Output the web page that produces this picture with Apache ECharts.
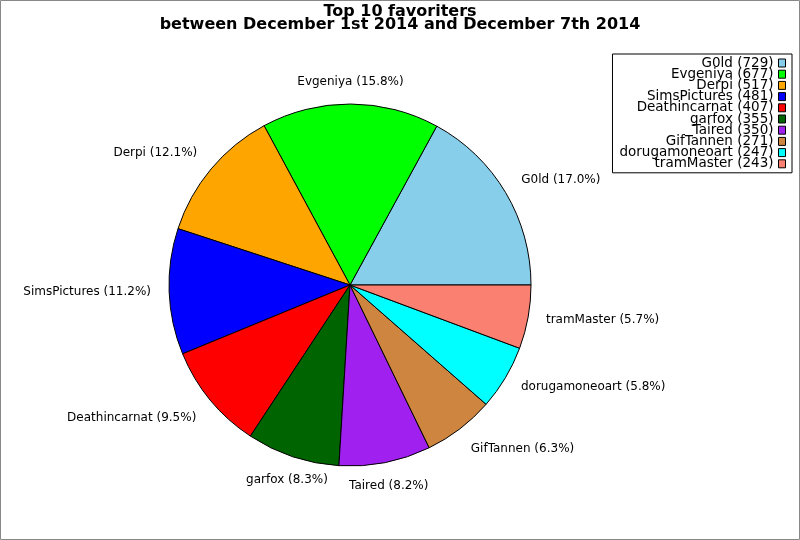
<!DOCTYPE html>
<html>
<head>
<meta charset="utf-8">
<title>Top 10 favoriters</title>
<script src="https://cdn.jsdelivr.net/npm/echarts@6/dist/echarts.min.js"></script>
<style>
  html, body { margin: 0; padding: 0; background: #fff; }
  #main { width: 800px; height: 540px; }
</style>
</head>
<body>
<div id="main"></div>
<script>
var names = ['G0ld', 'Evgeniya', 'Derpi', 'SimsPictures', 'Deathincarnat',
    'garfox', 'Taired', 'GifTannen', 'dorugamoneoart', 'tramMaster'];
var counts = [729, 677, 517, 481, 407, 355, 350, 271, 247, 243];
var colors = ['#87ceeb', '#00ff00', '#ffa500', '#0000ff', '#ff0000',
    '#006400', '#a020f0', '#cd853f', '#00ffff', '#fa8072'];

var total = counts.reduce(function (a, b) { return a + b; }, 0);

// pie geometry (px)
var cx = 350, cy = 285, R = 181;

// mid angle of every slice, counter-clockwise from 3 o'clock
var midAngles = [];
var acc = 0;
counts.forEach(function (v) {
    midAngles.push((acc + v / 2) / total * 2 * Math.PI);
    acc += v;
});

var chartDom = document.getElementById('main');
var myChart = echarts.init(chartDom);
var option;

option = {
    animation: false,
    color: colors,
    textStyle: { fontFamily: 'DejaVu Sans' },
    title: {
        text: 'Top 10 favoriters\nbetween December 1st 2014 and December 7th 2014',
        left: 'center',
        top: 0,
        textStyle: {
            fontFamily: 'DejaVu Sans',
            fontSize: 16,
            fontWeight: 'bold',
            lineHeight: 13.5,
            color: '#000'
        }
    },
    graphic: [{
        type: 'rect',
        shape: { x: 0.5, y: 0.5, width: 799, height: 539 },
        style: { fill: 'none', stroke: '#888', lineWidth: 1 },
        silent: true
    }],
    legend: {
        orient: 'vertical',
        right: 8,
        top: 54,
        align: 'right',
        padding: [2, 6, 2, 7],
        itemGap: -2.8,
        itemWidth: 7,
        itemHeight: 8,
        icon: 'rect',
        borderColor: '#000',
        borderWidth: 1,
        borderRadius: 0,
        itemStyle: { borderColor: '#000', borderWidth: 1 },
        formatter: function (name) {
            return name + ' (' + counts[names.indexOf(name)] + ')';
        },
        textStyle: {
            fontFamily: 'DejaVu Sans',
            fontSize: 13.5,
            color: '#000'
        },
        data: names
    },
    series: [{
        name: 'favoriters',
        type: 'pie',
        center: [cx, cy],
        radius: R,
        startAngle: 0,
        clockwise: false,
        avoidLabelOverlap: false,
        data: names.map(function (n, i) {
            return { name: n, value: counts[i] };
        }),
        itemStyle: { borderColor: '#000', borderWidth: 1 },
        label: {
            show: true,
            position: 'outside',
            fontFamily: 'DejaVu Sans',
            fontSize: 12,
            color: '#000',
            formatter: function (p) {
                return p.name + ' (' + (p.value / total * 100).toFixed(1) + '%)';
            }
        },
        labelLine: { show: false },
        // labels sit at 1.1 R, anchored by the side of the pie they are on
        labelLayout: function (params) {
            var a = midAngles[params.dataIndex];
            var c = Math.cos(a), s = Math.sin(a);
            var r = R * 1.1;
            var align = Math.abs(c) < 0.5 ? 'center' : (c > 0 ? 'left' : 'right');
            var vAlign = s >= 0.5 ? 'bottom' : (s < -0.52 ? 'top' : 'middle');
            return {
                x: cx + r * c,
                y: cy - r * s + (vAlign === 'bottom' ? 2 : 0),
                align: align,
                verticalAlign: vAlign
            };
        },
        emphasis: { disabled: true }
    }]
};

option && myChart.setOption(option);
</script>
</body>
</html>
